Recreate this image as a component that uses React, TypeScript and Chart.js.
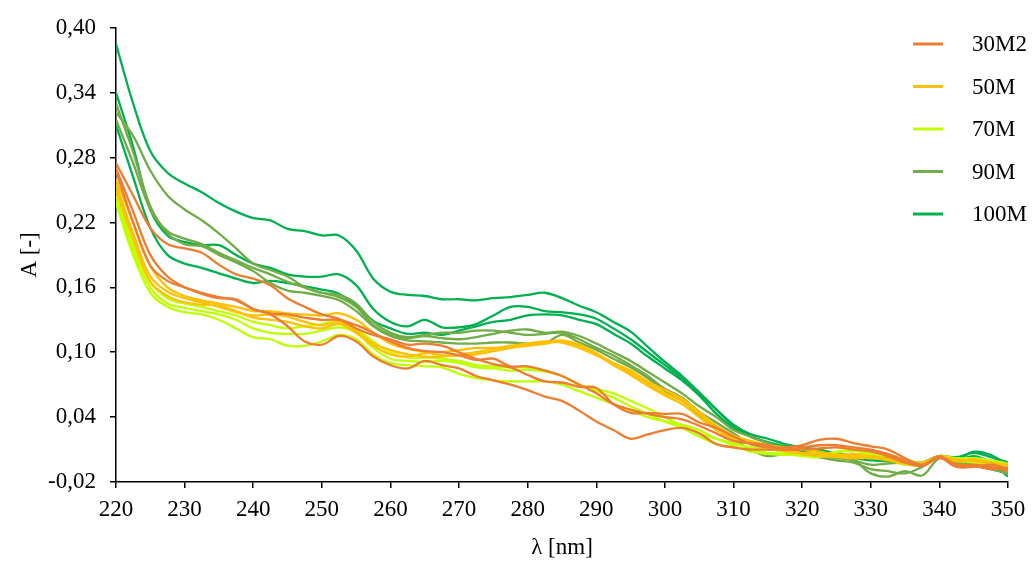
import React, { useEffect, useRef } from "react";
import { Chart, registerables } from "chart.js";

Chart.register(...registerables);

const wavelengths = [
  220, 222.5, 225, 227.5, 230, 232.5, 235, 237.5, 240, 242.5,
  245, 247.5, 250, 252.5, 255, 257.5, 260, 262.5, 265, 267.5,
  270, 272.5, 275, 277.5, 280, 282.5, 285, 287.5, 290, 292.5,
  295, 297.5, 300, 302.5, 305, 307.5, 310, 312.5, 315, 317.5,
  320, 322.5, 325, 327.5, 330, 332.5, 335, 337.5, 340, 342.5,
  345, 347.5, 350,
];

const seriesNames = ["30M2", "50M", "70M", "90M", "100M"];
const seriesColors = ["#ED7D31", "#FFC000", "#BFFF00", "#70AD47", "#00B050"];

const yTickValues = [-0.02, 0.04, 0.1, 0.16, 0.22, 0.28, 0.34, 0.4];
const xTickValues = [220, 230, 240, 250, 260, 270, 280, 290, 300, 310, 320, 330, 340, 350];

// 30M2
const s30M2_1 = [
  0.275, 0.245, 0.215, 0.200, 0.196, 0.192, 0.181, 0.172, 0.168, 0.162,
  0.150, 0.142, 0.135, 0.131, 0.122, 0.116, 0.112, 0.107, 0.108, 0.106,
  0.100, 0.094, 0.089, 0.086, 0.079, 0.073, 0.072, 0.068, 0.067, 0.052,
  0.044, 0.044, 0.043, 0.043, 0.035, 0.030, 0.022, 0.015, 0.012, 0.012,
  0.014, 0.019, 0.020, 0.016, 0.013, 0.010, 0.002, -0.004, 0.003, -0.004,
  -0.005, -0.008, -0.007,
];
const s30M2_2 = [
  0.268, 0.220, 0.180, 0.166, 0.160, 0.155, 0.151, 0.148, 0.140, 0.136,
  0.135, 0.132, 0.130, 0.130, 0.125, 0.118, 0.110, 0.104, 0.101, 0.100,
  0.097, 0.093, 0.094, 0.087, 0.087, 0.083, 0.078, 0.070, 0.062, 0.052,
  0.047, 0.043, 0.040, 0.038, 0.032, 0.025, 0.018, 0.016, 0.014, 0.010,
  0.010, 0.011, 0.012, 0.010, 0.008, 0.004, -0.002, -0.005, 0.004, -0.005,
  -0.004, -0.006, -0.010,
];
const s30M2_3 = [
  0.270, 0.230, 0.190, 0.170, 0.160, 0.154, 0.150, 0.149, 0.140, 0.135,
  0.124, 0.110, 0.107, 0.115, 0.110, 0.096, 0.088, 0.085, 0.092, 0.088,
  0.085, 0.078, 0.074, 0.070, 0.065, 0.059, 0.055, 0.046, 0.036, 0.028,
  0.020, 0.024, 0.028, 0.030, 0.025, 0.015, 0.012, 0.010, 0.010, 0.010,
  0.012, 0.014, 0.014, 0.012, 0.010, 0.006, 0.000, -0.005, 0.002, -0.006,
  -0.006, -0.004, -0.008,
];

// 50M
const s50M_1 = [
  0.260, 0.220, 0.180, 0.160, 0.152, 0.148, 0.145, 0.142, 0.138, 0.138,
  0.136, 0.135, 0.134, 0.136, 0.130, 0.118, 0.108, 0.103, 0.100, 0.097,
  0.097, 0.098, 0.101, 0.104, 0.107, 0.109, 0.111, 0.107, 0.099, 0.090,
  0.083, 0.073, 0.065, 0.057, 0.045, 0.032, 0.023, 0.018, 0.014, 0.012,
  0.010, 0.008, 0.005, 0.006, 0.003, 0.002, -0.001, -0.003, 0.004, 0.000,
  0.001, -0.002, -0.004,
];
const s50M_2 = [
  0.255, 0.210, 0.170, 0.156, 0.150, 0.146, 0.142, 0.137, 0.134, 0.135,
  0.133, 0.128, 0.125, 0.128, 0.120, 0.108, 0.102, 0.098, 0.096, 0.096,
  0.098, 0.100, 0.103, 0.106, 0.108, 0.110, 0.109, 0.104, 0.097, 0.090,
  0.081, 0.071, 0.062, 0.055, 0.043, 0.030, 0.020, 0.016, 0.013, 0.010,
  0.007, 0.006, 0.004, 0.004, 0.004, 0.001, -0.002, -0.002, 0.003, 0.001,
  -0.001, -0.003, -0.006,
];
const s50M_3 = [
  0.250, 0.205, 0.165, 0.152, 0.146, 0.144, 0.143, 0.138, 0.132, 0.130,
  0.128, 0.124, 0.122, 0.126, 0.118, 0.106, 0.098, 0.096, 0.099, 0.100,
  0.102, 0.104, 0.104, 0.105, 0.106, 0.108, 0.110, 0.106, 0.098, 0.088,
  0.079, 0.069, 0.060, 0.052, 0.040, 0.028, 0.020, 0.015, 0.012, 0.008,
  0.006, 0.004, 0.003, 0.002, 0.002, 0.000, -0.003, -0.004, 0.004, -0.001,
  0.000, -0.002, -0.005,
];

// 70M
const s70M_1 = [
  0.245, 0.200, 0.165, 0.150, 0.145, 0.142, 0.138, 0.134, 0.128, 0.125,
  0.122, 0.124, 0.126, 0.130, 0.122, 0.110, 0.100, 0.095, 0.095, 0.094,
  0.092, 0.088, 0.087, 0.086, 0.086, 0.083, 0.078, 0.070, 0.066, 0.062,
  0.055, 0.048, 0.040, 0.032, 0.025, 0.020, 0.016, 0.012, 0.010, 0.008,
  0.006, 0.005, 0.004, 0.006, 0.005, 0.002, 0.000, -0.002, 0.004, 0.002,
  0.002, 0.000, -0.003,
];
const s70M_2 = [
  0.240, 0.195, 0.160, 0.145, 0.141, 0.138, 0.135, 0.130, 0.122, 0.118,
  0.117, 0.117, 0.120, 0.123, 0.118, 0.104, 0.094, 0.092, 0.091, 0.092,
  0.090, 0.086, 0.085, 0.083, 0.084, 0.082, 0.078, 0.070, 0.064, 0.058,
  0.050, 0.043, 0.036, 0.030, 0.022, 0.015, 0.012, 0.010, 0.007, 0.006,
  0.004, 0.003, 0.008, 0.009, 0.006, 0.002, -0.002, -0.003, 0.003, 0.001,
  -0.001, -0.003, -0.006,
];
const s70M_3 = [
  0.238, 0.190, 0.155, 0.142, 0.137, 0.135, 0.130, 0.122, 0.114, 0.112,
  0.106, 0.106, 0.110, 0.116, 0.112, 0.098, 0.090, 0.088, 0.087, 0.086,
  0.080, 0.076, 0.074, 0.073, 0.073, 0.073, 0.070, 0.064, 0.058, 0.052,
  0.046, 0.040, 0.036, 0.033, 0.028, 0.020, 0.014, 0.008, 0.006, 0.005,
  0.006, 0.006, 0.007, 0.010, 0.005, 0.001, -0.004, -0.004, 0.003, 0.000,
  -0.002, -0.004, -0.008,
];

// 90M
const s90M_1 = [
  0.322, 0.300, 0.268, 0.245, 0.232, 0.222, 0.210, 0.196, 0.182, 0.176,
  0.170, 0.160, 0.155, 0.151, 0.142, 0.125, 0.116, 0.113, 0.115, 0.113,
  0.112, 0.114, 0.117, 0.120, 0.121, 0.118, 0.119, 0.115, 0.108, 0.100,
  0.092, 0.082, 0.072, 0.062, 0.050, 0.040, 0.028, 0.022, 0.016, 0.010,
  0.006, 0.003, 0.000, -0.002, -0.008, -0.010, -0.012, -0.006, 0.003, -0.002,
  -0.004, -0.008, -0.012,
];
const s90M_2 = [
  0.330, 0.285, 0.235, 0.210, 0.200, 0.198, 0.190, 0.183, 0.175, 0.164,
  0.157, 0.155, 0.152, 0.148, 0.138, 0.124, 0.115, 0.111, 0.110, 0.109,
  0.108, 0.108, 0.109, 0.109, 0.108, 0.108, 0.116, 0.109, 0.102, 0.094,
  0.086, 0.076, 0.064, 0.055, 0.042, 0.030, 0.020, 0.010, 0.004, 0.006,
  0.005, 0.003, 0.003, 0.000, -0.004, -0.003, -0.002, -0.003, 0.004, 0.000,
  0.002, -0.002, -0.004,
];
const s90M_3 = [
  0.315, 0.275, 0.232, 0.212, 0.205, 0.200, 0.192, 0.185, 0.178, 0.172,
  0.165, 0.160, 0.155, 0.153, 0.145, 0.128, 0.118, 0.114, 0.116, 0.118,
  0.118, 0.120, 0.120, 0.118, 0.116, 0.117, 0.118, 0.112, 0.104, 0.097,
  0.088, 0.078, 0.066, 0.058, 0.045, 0.035, 0.025, 0.015, 0.012, 0.010,
  0.006, 0.004, 0.002, 0.000, -0.012, -0.015, -0.010, -0.014, 0.002, -0.002,
  -0.005, -0.008, -0.012,
];

// 100M
const s100M_1 = [
  0.385, 0.330, 0.286, 0.266, 0.256, 0.248, 0.238, 0.230, 0.224, 0.222,
  0.214, 0.212, 0.208, 0.208, 0.194, 0.168, 0.156, 0.153, 0.152, 0.149,
  0.149, 0.148, 0.150, 0.151, 0.153, 0.155, 0.150, 0.143, 0.137, 0.128,
  0.119, 0.105, 0.091, 0.078, 0.063, 0.047, 0.032, 0.022, 0.017, 0.013,
  0.010, 0.008, 0.005, 0.006, 0.003, 0.003, 0.000, -0.002, 0.004, 0.003,
  0.007, 0.003, -0.002,
];
const s100M_2 = [
  0.340, 0.290, 0.232, 0.208, 0.202, 0.199, 0.199, 0.190, 0.182, 0.178,
  0.172, 0.170, 0.170, 0.172, 0.162, 0.140, 0.128, 0.124, 0.130, 0.123,
  0.123, 0.126, 0.134, 0.142, 0.142, 0.138, 0.137, 0.135, 0.131, 0.122,
  0.112, 0.100, 0.088, 0.076, 0.062, 0.047, 0.033, 0.024, 0.020, 0.015,
  0.012, 0.010, 0.006, 0.004, 0.002, 0.001, -0.002, -0.003, 0.004, 0.001,
  0.008, 0.005, -0.004,
];
const s100M_3 = [
  0.310, 0.262, 0.215, 0.190, 0.182, 0.178, 0.173, 0.168, 0.164, 0.166,
  0.164, 0.161, 0.158, 0.154, 0.143, 0.129, 0.122, 0.117, 0.118, 0.116,
  0.120, 0.124, 0.128, 0.130, 0.134, 0.135, 0.134, 0.130, 0.126, 0.117,
  0.108, 0.096, 0.085, 0.074, 0.060, 0.043, 0.030, 0.022, 0.016, 0.010,
  0.008, 0.004, 0.003, 0.002, 0.000, -0.001, -0.003, -0.002, 0.004, 0.000,
  0.004, -0.002, -0.015,
];

const seriesRuns = [
  [s30M2_1, s30M2_2, s30M2_3],
  [s50M_1, s50M_2, s50M_3],
  [s70M_1, s70M_2, s70M_3],
  [s90M_1, s90M_2, s90M_3],
  [s100M_1, s100M_2, s100M_3],
];

const FONT_FAMILY = "'Liberation Serif', 'Times New Roman', serif";
const FONT_SIZE = 23;

const legendPlugin = {
  id: "customLegend",
  afterDraw(chart: any) {
    const ctx = chart.ctx;
    ctx.save();
    seriesNames.forEach((name, i) => {
      const y = 44 + i * 42.5;
      ctx.strokeStyle = seriesColors[i];
      ctx.lineWidth = 3;
      ctx.beginPath();
      ctx.moveTo(913, y);
      ctx.lineTo(943, y);
      ctx.stroke();
      ctx.fillStyle = "#000";
      ctx.font = `${FONT_SIZE}px ${FONT_FAMILY}`;
      ctx.textBaseline = "middle";
      ctx.textAlign = "left";
      ctx.fillText(name, 972, y + 1);
    });
    ctx.restore();
  },
};

export default function App() {
  const canvasRef = useRef<HTMLCanvasElement | null>(null);

  useEffect(() => {
    if (!canvasRef.current) return;
    const datasets: any[] = [];
    seriesRuns.forEach((runs, si) => {
      runs.forEach((run, ri) => {
        datasets.push({
          label: `${seriesNames[si]} #${ri + 1}`,
          data: wavelengths.map((w, k) => ({ x: w, y: run[k] })),
          borderColor: seriesColors[si],
          backgroundColor: seriesColors[si],
          borderWidth: 2.3,
          pointRadius: 0,
          tension: 0.35,
          fill: false,
        });
      });
    });

    const chart = new Chart(canvasRef.current, {
      type: "line",
      data: { datasets },
      plugins: [legendPlugin],
      options: {
        animation: false,
        responsive: false,
        devicePixelRatio: 1,
        layout: { padding: { top: 21, right: 26, left: 0, bottom: 0 } },
        plugins: { legend: { display: false }, tooltip: { enabled: false } },
        scales: {
          x: {
            type: "linear",
            min: 220,
            max: 350,
            afterFit(scale: any) {
              scale.height = 81;
            },
            afterBuildTicks(scale: any) {
              scale.ticks = xTickValues.map((v) => ({ value: v }));
            },
            ticks: {
              color: "#000",
              font: { family: FONT_FAMILY, size: FONT_SIZE },
              padding: 8,
              maxRotation: 0,
              autoSkip: false,
            },
            grid: {
              drawOnChartArea: false,
              drawTicks: true,
              tickLength: 6,
              color: "#000",
              lineWidth: 1.5,
            },
            border: { color: "#000", width: 1.5 },
            title: {
              display: true,
              text: "λ [nm]",
              color: "#000",
              font: { family: FONT_FAMILY, size: FONT_SIZE },
              padding: { top: 0, bottom: 1 },
            },
          },
          y: {
            type: "linear",
            min: -0.02,
            max: 0.4,
            afterFit(scale: any) {
              scale.width = 116;
            },
            afterBuildTicks(scale: any) {
              scale.ticks = yTickValues.map((v) => ({ value: v }));
            },
            ticks: {
              color: "#000",
              font: { family: FONT_FAMILY, size: FONT_SIZE },
              padding: 14,
              callback: (v: any) => Number(v).toFixed(2).replace(".", ","),
            },
            grid: {
              drawOnChartArea: false,
              drawTicks: true,
              tickLength: 6,
              color: "#000",
              lineWidth: 1.5,
            },
            border: { color: "#000", width: 1.5 },
            title: {
              display: true,
              text: "A [-]",
              color: "#000",
              font: { family: FONT_FAMILY, size: FONT_SIZE },
              padding: { top: 16, bottom: 0 },
            },
          },
        },
      },
    });
    return () => chart.destroy();
  }, []);

  return (
    <div style={{ position: "fixed", left: 0, top: 0, width: 1034, height: 563, background: "#fff" }}>
      <canvas ref={canvasRef} width={1034} height={563} style={{ width: 1034, height: 563 }} />
    </div>
  );
}
